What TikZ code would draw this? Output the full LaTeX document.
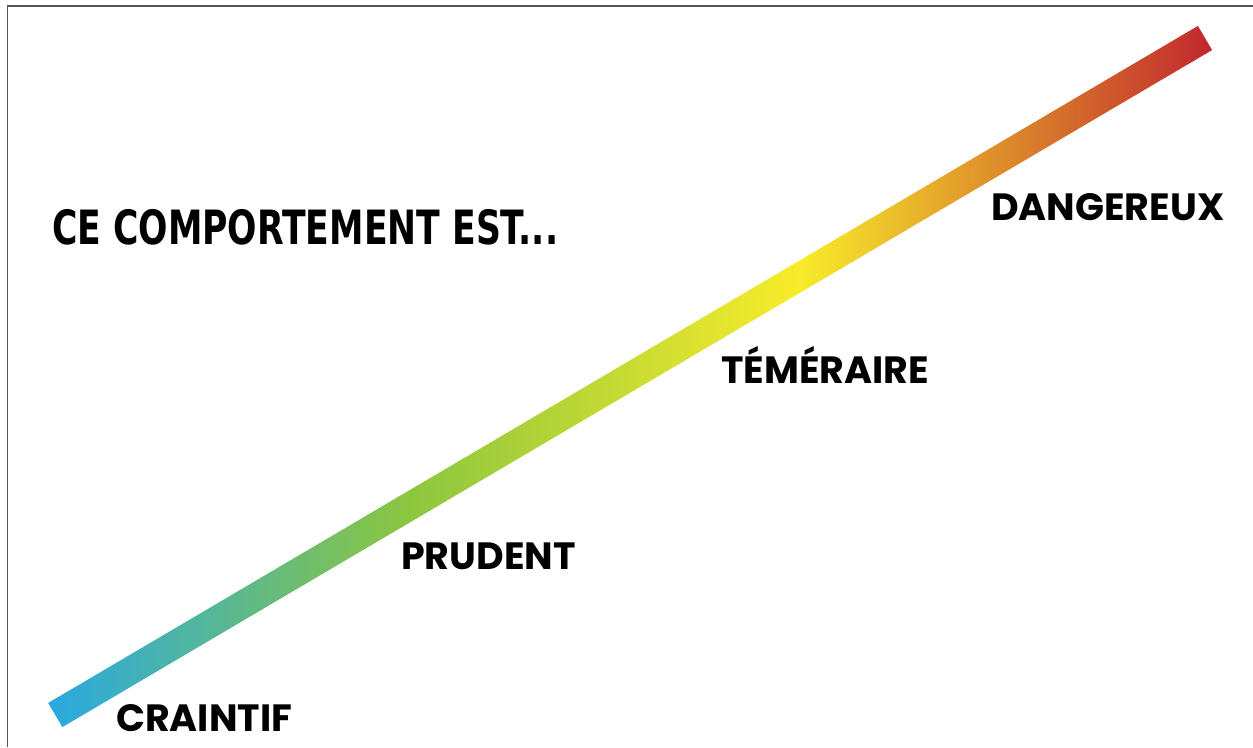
\documentclass[tikz,border=0pt]{standalone}
\usepackage{fontspec}
\setmainfont{Poppins}
\newfontfamily\titlefont{DejaVu Sans Condensed}
\usetikzlibrary{calc}
\definecolor{framegray}{HTML}{555555}
\definecolor{craintifblue}{HTML}{29A9E1}
\definecolor{prudentgreen}{HTML}{8CC63F}
\definecolor{temeraireyellow}{HTML}{F8EC2A}
\definecolor{dangerred}{HTML}{C1272D}
\pgfdeclarehorizontalshading{risque}{100bp}{color(0bp)=(craintifblue); color(25bp)=(craintifblue); color(40.5bp)=(prudentgreen); color(57.25bp)=(temeraireyellow); color(75bp)=(dangerred); color(100bp)=(dangerred)}
\tikzset{levelname/.style={anchor=base west, inner sep=0pt, font=\bfseries\fontsize{38}{40}\selectfont}}

\begin{document}
\begin{tikzpicture}[x=1pt,y=1pt]
		%%%%% START %%%%%
		\useasboundingbox (0,0) rectangle (1253,747);
		\draw[framegray, line width=1.5pt] (7.5,0) |- (1253,741);
		
		\coordinate (low) at (55.3,32);
		\coordinate (high) at (1205,709);
		\shade[shading=risque] ($(low)!14pt!90:(high)$) -- ($(high)!14pt!-90:(low)$)
			-- ($(high)!14pt!90:(low)$) -- ($(low)!14pt!-90:(high)$) -- cycle;
		
		\node[anchor=base west, inner sep=0pt] (titre) at (52,502)
			{\scalebox{0.855}[1.05]{\titlefont\bfseries\fontsize{45}{45}\selectfont CE COMPORTEMENT EST...}};
		
		\node[levelname] (craintif) at (116,15.3) {CRAINTIF};
		\node[levelname] (prudent) at (401,177) {PRUDENT};
		\node[levelname] (temeraire) at (721,363.7) {TÉMÉRAIRE};
		\node[levelname] (dangereux) at (991,526) {DANGEREUX};
		%%%%% END %%%%%
	\end{tikzpicture}
\end{document}
